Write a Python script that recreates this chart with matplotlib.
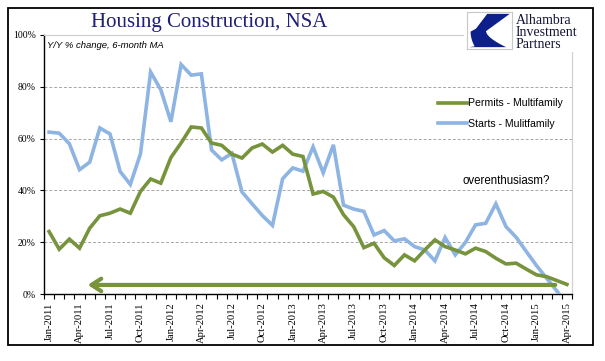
import matplotlib
matplotlib.use("Agg")
import matplotlib.pyplot as plt
from matplotlib.patches import Rectangle, Polygon
import numpy as np

months = ["Jan", "Feb", "Mar", "Apr", "May", "Jun", "Jul", "Aug", "Sep", "Oct", "Nov", "Dec"]
categories = [f"{months[m]}-{y}" for y in range(2011, 2016) for m in range(12)][:52]

permits = [24.1, 17.3, 21.2, 17.7, 25.4, 30.2, 31.2, 32.8, 31.2, 39.6, 44.4, 42.8,
           52.7, 58.3, 64.5, 64.1, 58.3, 57.4, 54.0, 52.5, 56.4, 57.9, 54.8, 57.4,
           54.0, 53.1, 38.6, 39.6, 37.4, 30.6, 26.0, 17.9, 19.6, 14.0, 11.0, 15.1,
           12.8, 17.0, 20.9, 18.3, 17.0, 15.5, 17.7, 16.4, 13.8, 11.6, 11.9, 9.6,
           7.4, 6.7, 5.2, 3.7]
starts = [62.5, 62.1, 58.0, 48.0, 50.9, 64.1, 61.8, 47.3, 42.3, 54.1, 85.7, 78.9,
          66.5, 88.6, 84.5, 85.0, 55.6, 51.8, 54.3, 39.4, 34.8, 30.3, 26.5, 44.5,
          48.7, 47.4, 56.8, 46.8, 57.6, 34.3, 32.8, 31.9, 22.8, 24.5, 20.5, 21.3,
          18.3, 17.0, 12.8, 21.8, 15.1, 19.9, 26.7, 27.3, 34.8, 26.0, 21.9, 16.4,
          11.0, 6.1, 1.2, -4.0]
yticks = [0, 20, 40, 60, 80, 100]
ytick_labels = ["0%", "20%", "40%", "60%", "80%", "100%"]
arrow_level = 3.5
arrow_from = 49.85
arrow_to = 3.8

GREEN = "#77933C"
BLUE = "#8DB4E2"
NAVY = "#1f1f78"

W, H = 605, 361
fig = plt.figure(figsize=(W / 100, H / 100), dpi=100)

def fx(px):
    return px / W

def fy(py):
    return 1 - py / H

# outer border
fig.patches.append(Rectangle((fx(8), fy(345)), fx(593) - fx(8), fy(8) - fy(345),
                             transform=fig.transFigure, fill=False, edgecolor="black",
                             linewidth=1.3, zorder=0))

ax = fig.add_axes([fx(44), fy(294), fx(572) - fx(44), fy(35) - fy(294)])
x = np.arange(len(categories))
ax.plot(x, starts, color=BLUE, lw=2.6, solid_joinstyle="miter", label="Starts - Mulitfamily", zorder=3)
ax.plot(x, permits, color=GREEN, lw=2.6, solid_joinstyle="miter", label="Permits - Multifamily", zorder=4)

ax.set_xlim(-0.5, len(categories) - 0.5)
ax.set_ylim(0, 100)
ax.set_yticks(yticks)
ax.set_yticklabels(ytick_labels, family="Liberation Serif", fontsize=7)
for v in yticks[1:-1]:
    ax.axhline(v, color="#A6A6A6", lw=0.7, ls=(0, (3, 2)), zorder=1)

ax.set_xticks(x[::3])
ax.set_xticklabels(categories[::3], rotation=90, family="Liberation Serif", fontsize=7.6, va="top")
ax.set_xticks(np.arange(-0.5, len(categories), 1), minor=True)
ax.tick_params(axis="x", which="major", length=0, pad=6)
ax.tick_params(axis="x", which="minor", length=3.5, width=0.8, direction="out")
ax.tick_params(axis="y", length=3, width=0.8, pad=3, direction="out")

for s in ["left", "bottom"]:
    ax.spines[s].set_color("black")
    ax.spines[s].set_linewidth(1.0)
for s in ["top", "right"]:
    ax.spines[s].set_color("#D0D0D0")
    ax.spines[s].set_linewidth(0.9)

# arrow
ax.annotate("", xy=(arrow_to, arrow_level), xytext=(arrow_from, arrow_level),
            arrowprops=dict(arrowstyle="->,head_length=0.7,head_width=0.45",
                            color=GREEN, lw=3.0, shrinkA=0, shrinkB=0), zorder=5)

ax.text(45.0, 43.5, "overenthusiasm?", family="Liberation Sans", fontsize=8.3,
        ha="center", va="center")

handles, labels = ax.get_legend_handles_labels()
ax.legend(handles[::-1], labels[::-1], loc="upper left",
          bbox_to_anchor=(fx(433), fy(93)), bbox_transform=fig.transFigure,
          frameon=False, prop={"family": "Liberation Sans", "size": 7.6},
          handlelength=2.7, handletextpad=0.15, labelspacing=1.0, borderpad=0)

fig.text(fx(47), fy(46), "Y/Y % change, 6-month MA", family="Liberation Sans",
         style="italic", fontsize=6.8, ha="left", va="center")

fig.text(fx(91), fy(27), "Housing Construction, NSA", family="Liberation Serif",
         fontsize=15, color=NAVY, ha="left", va="baseline")

# white area behind logo
fig.patches.append(Rectangle((fx(464), fy(52)), fx(592) - fx(464), fy(9) - fy(52),
                             transform=fig.transFigure, facecolor="white",
                             edgecolor="none", zorder=10))
lax = fig.add_axes([fx(467), fy(49), fx(512) - fx(467), fy(12) - fy(49)], zorder=11)
lax.set_xlim(0, 1)
lax.set_ylim(0, 1)
lax.set_xticks([])
lax.set_yticks([])
for s in lax.spines.values():
    s.set_color("#C8C8C8")
    s.set_linewidth(0.8)
t = np.linspace(0, 1, 20)
curve_low = [(0.42 + 0.45 * tt, 0.48 - 0.43 * tt ** 0.6) for tt in t]
curve_up = [(0.08 + 0.1 * (1 - tt) ** 2, 0.05 + 0.42 * tt) for tt in t]
poly = [(0.45, 0.95), (0.95, 0.95)] + curve_low + [(0.05, 0.05)] + curve_up[1:] + [(0.2, 0.55)]
lax.add_patch(Polygon(poly, closed=True, facecolor="#0d1f8a", edgecolor="none"))

for i, word in enumerate(["Alhambra", "Investment", "Partners"]):
    fig.text(fx(516), fy(20 + 12 * i), word, family="Liberation Serif", fontsize=10,
             color="#141438", ha="left", va="center", zorder=12)

fig.savefig("out.png", dpi=100, facecolor="white")
